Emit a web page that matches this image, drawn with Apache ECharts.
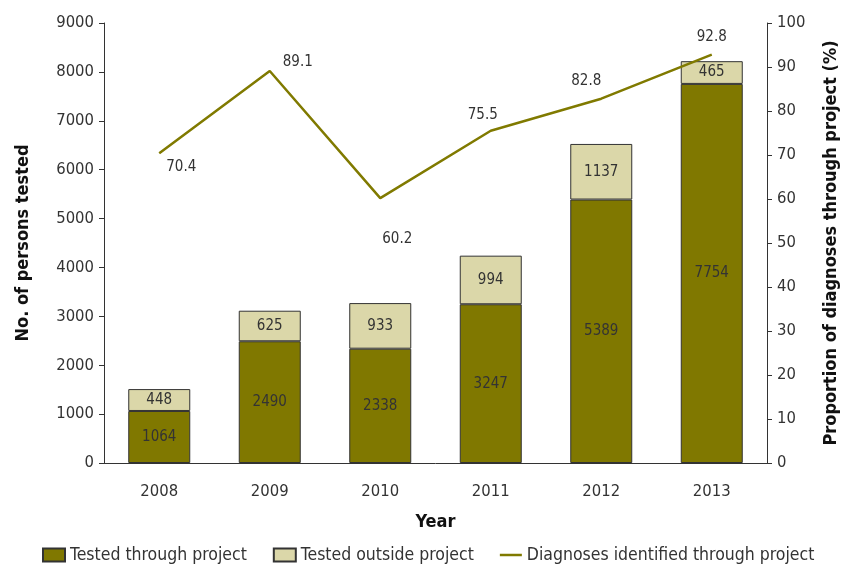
<!DOCTYPE html>
<html>
<head>
<meta charset="utf-8">
<script src="https://cdn.jsdelivr.net/npm/echarts@6/dist/echarts.min.js"></script>
<style>html,body{margin:0;padding:0;background:#fff}#c{width:844px;height:566px}</style>
</head>
<body>
<div id="c"></div>
<script>
const years = ['2008','2009','2010','2011','2012','2013'];
const testedThrough = [1064, 2490, 2338, 3247, 5389, 7754];
const testedOutside = [448, 625, 933, 994, 1137, 465];
const diagnosesPct = [70.4, 89.1, 60.2, 75.5, 82.8, 92.8];
const leftTicks = [0, 9000, 1000];
const rightTicks = [0, 100, 10];

const FONT = '"Liberation Sans Narrow","DejaVu Sans Condensed",sans-serif';
const TXT = '#333';
const DARK = '#807800';
const LIGHT = '#dbd7a9';
const LINE = '#807a00';

const labelPos = [
  {position:'bottom', offset:[22, 1]},
  {position:'top', offset:[28, 4]},
  {position:'bottom', offset:[17, 28]},
  {position:'top', offset:[-8, -3]},
  {position:'top', offset:[-15, -5]},
  {position:'top', offset:[0, -5]}
];

const chart = echarts.init(document.getElementById('c'), null, {renderer:'canvas'});
chart.setOption({
  animation:false,
  textStyle:{fontFamily:FONT},
  grid:{left:104, right:77, top:23, bottom:103, containLabel:false, outerBoundsMode:'none'},
  legend:{
    top:541, left:37, itemGap:26, itemWidth:22, itemHeight:13,
    textStyle:{fontFamily:FONT, fontSize:17.5, color:TXT},
    data:[
      {name:'Tested through project', icon:'rect'},
      {name:'Tested outside project', icon:'rect'},
      {name:'Diagnoses identified through project', icon:'path://M0,0L0,0M0,5.3H30V8.7H0ZM0,14L0,14', itemStyle:{color:LINE, opacity:1, borderWidth:0}}
    ]
  },
  xAxis:{
    type:'category', data:years,
    name:'Year', nameLocation:'middle', nameGap:50,
    nameTextStyle:{fontFamily:FONT, fontSize:18, fontWeight:'bold', color:'#111'},
    axisLine:{lineStyle:{color:'#333', width:1}},
    axisTick:{show:false},
    axisLabel:{fontFamily:FONT, fontSize:16.5, color:TXT, margin:20}
  },
  yAxis:[
    {
      type:'value', min:leftTicks[0], max:leftTicks[1], interval:leftTicks[2],
      name:'No. of persons tested', nameLocation:'middle', nameGap:72,
      nameTextStyle:{fontFamily:FONT, fontSize:18, fontWeight:'bold', color:'#111'},
      axisLine:{show:true, lineStyle:{color:'#333', width:1}},
      axisTick:{show:true, length:5, lineStyle:{color:'#333'}},
      splitLine:{show:false},
      axisLabel:{fontFamily:FONT, fontSize:16.5, color:TXT, margin:10, formatter:v=>String(v)}
    },
    {
      type:'value', min:rightTicks[0], max:rightTicks[1], interval:rightTicks[2],
      position:'right',
      name:'Proportion of diagnoses through project (%)', nameLocation:'middle', nameGap:55,
      nameRotate:90,
      nameTextStyle:{fontFamily:FONT, fontSize:18, fontWeight:'bold', color:'#111'},
      axisLine:{show:true, lineStyle:{color:'#333', width:1}},
      axisTick:{show:true, length:5, lineStyle:{color:'#333'}},
      splitLine:{show:false},
      axisLabel:{fontFamily:FONT, fontSize:16.5, color:TXT, margin:10}
    }
  ],
  series:[
    {
      name:'Tested through project', type:'bar', stack:'t', barWidth:62,
      data:testedThrough,
      itemStyle:{color:DARK, borderColor:'#333', borderWidth:1},
      label:{show:true, position:'inside', fontFamily:FONT, fontSize:15, color:TXT}
    },
    {
      name:'Tested outside project', type:'bar', stack:'t', barWidth:62,
      data:testedOutside,
      itemStyle:{color:LIGHT, borderColor:'#333', borderWidth:1},
      label:{show:true, position:'inside', fontFamily:FONT, fontSize:15, color:TXT}
    },
    {
      name:'Diagnoses identified through project', type:'line', yAxisIndex:1,
      symbol:'circle', symbolSize:0.5, showSymbol:true, z:5,
      lineStyle:{color:LINE, width:2.5},
      itemStyle:{color:LINE},
      data:diagnosesPct.map((v,i)=>({value:v, label:{show:true, position:labelPos[i].position, offset:labelPos[i].offset}})),
      label:{show:true, fontFamily:FONT, fontSize:15, color:TXT}
    }
  ]
});
</script>
</body>
</html>
